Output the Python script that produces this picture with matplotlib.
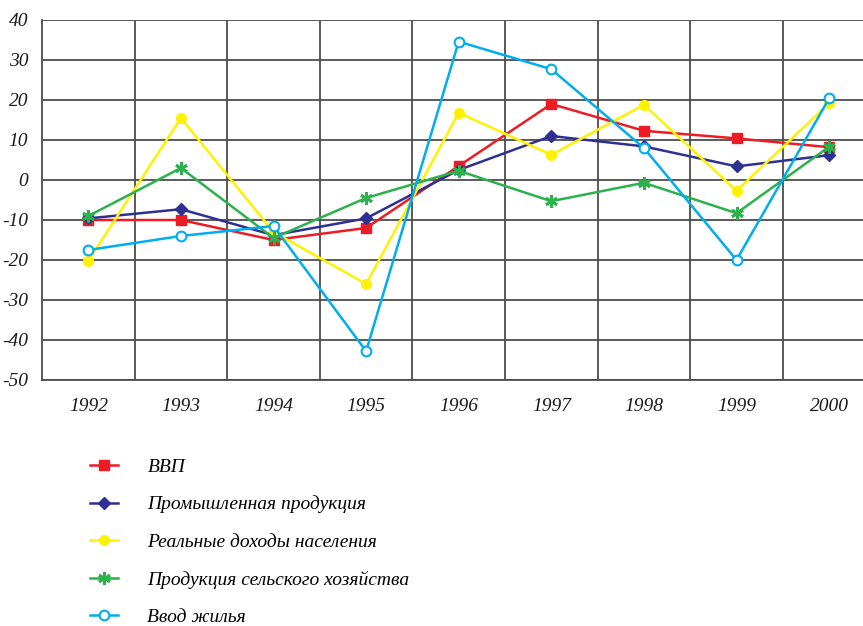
import matplotlib
matplotlib.use("Agg")
import matplotlib.pyplot as plt

years = ["1992", "1993", "1994", "1995", "1996", "1997", "1998", "1999", "2000"]

vvp = [-10, -10, -15, -12, 3.5, 19, 12.3, 10.4, 8.2]
prom = [-9.6, -7.3, -13.8, -9.6, 2.5, 11, 8.4, 3.4, 6.2]
dohody = [-20.2, 15.5, -13, -26, 16.8, 6.3, 18.8, -2.7, 19.2]
selhoz = [-9, 3, -14.5, -4.5, 2.3, -5.3, -0.7, -8.3, 8.3]
zhilye = [-17.5, -14, -11.5, -42.8, 34.6, 27.7, 8, -20, 20.4]

labels = ["ВВП", "Промышленная продукция", "Реальные доходы населения",
          "Продукция сельского хозяйства", "Ввод жилья"]

plt.rcParams["font.family"] = "Liberation Serif"
plt.rcParams["font.style"] = "italic"
plt.rcParams["axes.unicode_minus"] = False

fig = plt.figure(figsize=(8.63, 6.26), dpi=100)
ax = fig.add_axes([42 / 863, 1 - 380 / 626, 1 - 42 / 863, 360 / 626])

x = range(len(years))
lw = 1.8
ax.plot(x, vvp, color="#ed1c24", lw=lw, marker="s", ms=7, label=labels[0], zorder=3)
ax.plot(x, prom, color="#2e3192", lw=lw, marker="D", ms=6.5, label=labels[1], zorder=3)
ax.plot(x, dohody, color="#fff200", lw=lw, marker="o", ms=7, label=labels[2], zorder=3)
ax.plot(x, selhoz, color="#2bb24c", lw=lw, marker=(6, 2, 0), ms=9, mew=2, label=labels[3], zorder=3)
ax.plot(x, zhilye, color="#00aeef", lw=lw, marker="o", ms=7, mfc="white", mew=1.5, label=labels[4], zorder=4)

ax.set_xlim(-0.5, 8.366)
ax.set_ylim(-50, 40)
ax.set_yticks(range(-50, 41, 10))
ax.set_xticks(list(x))
ax.set_xticklabels(years)

# vertical separators between years
for b in [i + 0.5 for i in range(8)]:
    ax.axvline(b, color="#4d4d4d", lw=1.3, zorder=1)
ax.grid(axis="y", color="#4d4d4d", lw=1.3, zorder=1)

for s in ["top", "right"]:
    ax.spines[s].set_visible(False)
for s in ["left", "bottom"]:
    ax.spines[s].set_color("#4d4d4d")
    ax.spines[s].set_linewidth(1.3)

ax.tick_params(length=0, labelsize=14, colors="#1a1a1a")
ax.tick_params(axis="x", pad=13)
ax.tick_params(axis="y", pad=10)

fig.legend(loc="upper left", bbox_to_anchor=(90 / 863, 1 - 458 / 626), frameon=False,
           fontsize=14, handlelength=1.45, handletextpad=1.5, labelspacing=1.02,
           borderaxespad=0, borderpad=0)

fig.savefig("out.png", dpi=100)
